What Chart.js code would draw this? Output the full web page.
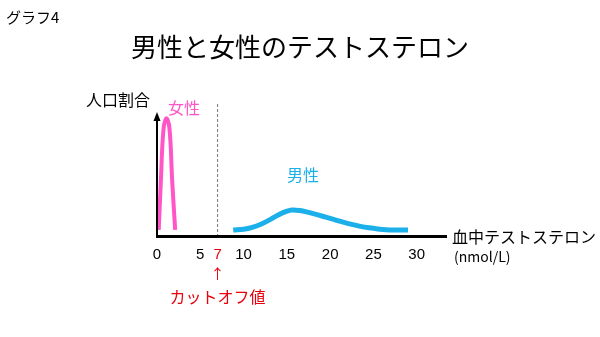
<!DOCTYPE html>
<html>
<head>
<meta charset="utf-8">
<script src="https://cdn.jsdelivr.net/npm/chart.js@4"></script>
<style>
  html, body { margin: 0; padding: 0; background: #fff; }
  #wrap { width: 600px; height: 337px; position: relative; }
</style>
</head>
<body>
<div id="wrap"><canvas id="c"></canvas></div>
<script>
// ------------------------------------------------------------
// DATA
// ------------------------------------------------------------
const xTicks = [0, 5, 7, 10, 15, 20, 25, 30];
const cutoff = 7;

// female distribution (nmol/L, relative share)
const femaleX = [0.2, 0.45, 0.75, 1.1, 1.45, 1.75, 2.1];
const femaleY = [0.05, 0.45, 0.86, 0.95, 0.86, 0.45, 0.05];

// male distribution
const maleX = [8.8, 10, 11, 12, 13, 14, 15, 15.6, 16.5, 17.5, 18.5, 19.5, 20.5, 21.5, 22.5, 23.5, 24.5, 25.5, 26.5, 27.5, 29];
const maleY = [0.048, 0.055, 0.07, 0.095, 0.13, 0.17, 0.2, 0.21, 0.205, 0.19, 0.172, 0.152, 0.132, 0.112, 0.094, 0.078, 0.066, 0.057, 0.051, 0.049, 0.048];

const JP = "'Noto Sans CJK JP', 'Noto Sans', sans-serif";
const NUM = "'Liberation Sans', Arial, sans-serif";
const PINK = '#ff55c6';
const BLUE = '#1cb0ea';
const RED = '#e8000b';

const toPts = (xs, ys) => xs.map((x, i) => ({ x: x, y: ys[i] }));

// ------------------------------------------------------------
// Overlay: texts, axes with arrow, cutoff line
// ------------------------------------------------------------
const overlay = {
  id: 'overlay',
  beforeDatasetsDraw(chart) {
    const { ctx, chartArea: a, scales: { x } } = chart;
    const cx = x.getPixelForValue(cutoff);
    ctx.save();
    ctx.strokeStyle = '#777';
    ctx.lineWidth = 1;
    ctx.setLineDash([3, 2]);
    ctx.beginPath();
    ctx.moveTo(cx, a.top - 8);
    ctx.lineTo(cx, a.bottom);
    ctx.stroke();
    ctx.restore();
  },
  afterDraw(chart) {
    const { ctx, chartArea: a, scales: { x } } = chart;
    ctx.save();
    // axes
    ctx.fillStyle = '#000';
    ctx.fillRect(a.left - 1, a.bottom - 1, a.right - a.left + 1, 3);
    ctx.fillRect(a.left - 1, a.top + 6, 2, a.bottom - a.top - 4);
    ctx.beginPath();
    ctx.moveTo(a.left, a.top);
    ctx.lineTo(a.left - 3.5, a.top + 9);
    ctx.lineTo(a.left + 3.5, a.top + 9);
    ctx.closePath();
    ctx.fill();

    ctx.textBaseline = 'middle';
    ctx.textAlign = 'left';
    ctx.font = '15px ' + JP;
    ctx.fillText('グラフ4', 6, 17);

    ctx.textAlign = 'center';
    ctx.font = '26px ' + JP;
    ctx.fillText('男性と女性のテストステロン', 300, 47);

    ctx.textAlign = 'left';
    ctx.font = '16px ' + JP;
    ctx.fillText('人口割合', 86, 100);
    ctx.fillText('血中テストステロン', 452, 237);
    ctx.font = '14px ' + JP;
    ctx.fillText('(nmol/L)', 454, 257);

    ctx.font = '16px ' + JP;
    ctx.fillStyle = PINK;
    ctx.fillText('女性', 168, 108);
    ctx.fillStyle = BLUE;
    ctx.fillText('男性', 287, 175);

    const cx = x.getPixelForValue(cutoff);
    ctx.fillStyle = RED;
    ctx.textAlign = 'center';
    ctx.font = '14px ' + JP;
    ctx.fillText('↑', cx, 274);
    ctx.font = '16px ' + JP;
    ctx.fillText('カットオフ値', cx, 297);
    ctx.restore();
  }
};

new Chart(document.getElementById('c'), {
  type: 'scatter',
  data: {
    datasets: [
      {
        label: '女性',
        data: toPts(femaleX, femaleY),
        showLine: true,
        borderColor: PINK,
        borderWidth: 4,
        pointRadius: 0,
        tension: 0.4
      },
      {
        label: '男性',
        data: toPts(maleX, maleY),
        showLine: true,
        borderColor: BLUE,
        borderWidth: 5,
        pointRadius: 0,
        tension: 0.4
      }
    ]
  },
  options: {
    responsive: true,
    maintainAspectRatio: false,
    animation: false,
    clip: false,
    layout: { padding: { left: 157, right: 153, top: 112, bottom: 63 } },
    plugins: { legend: { display: false }, tooltip: { enabled: false } },
    scales: {
      x: {
        type: 'linear',
        min: 0,
        max: 33.5,
        afterBuildTicks: axis => { axis.ticks = xTicks.map(v => ({ value: v })); },
        grid: { display: false, drawTicks: false },
        border: { display: false },
        ticks: {
          autoSkip: false,
          maxRotation: 0,
          padding: 10,
          font: { size: 15, family: NUM },
          color: c => c.tick && c.tick.value === cutoff ? RED : '#000'
        }
      },
      y: { display: false, min: 0, max: 1 }
    }
  },
  plugins: [overlay]
});
</script>
</body>
</html>
